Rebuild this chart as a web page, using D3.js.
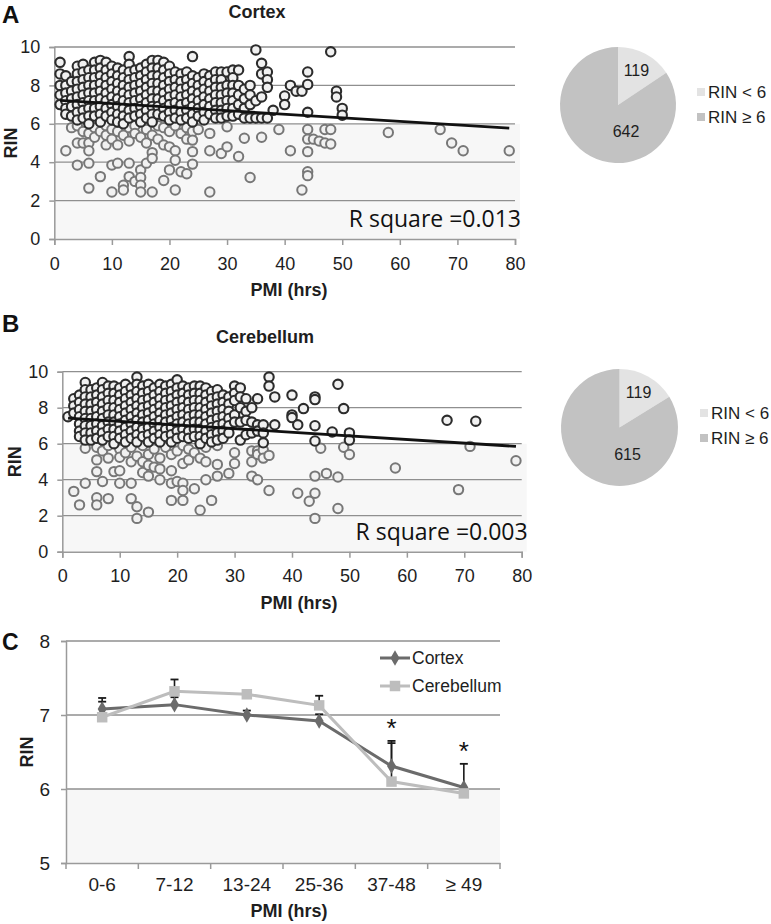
<!DOCTYPE html>
<html><head><meta charset="utf-8">
<script src="https://cdn.jsdelivr.net/npm/d3@7/dist/d3.min.js"></script>
<style>body{margin:0;background:#fff}svg{display:block}</style>
</head><body>
<svg id="chart" width="771" height="924"></svg>
<script>
// ---------- DATA ----------
const scatterXTicks = [0,10,20,30,40,50,60,70,80];
const scatterYTicks = [0,2,4,6,8,10];

// Cortex: [PMI, [RIN values at that PMI]]
const cortexCols = [
 [1,[9.2,8.6,8.0,7.5,7.0]],
 [2,[8.5,8.0,7.6,7.2,6.8,6.5,4.6]],
 [3,[8.2,7.7,7.3,6.9,6.4,5.8]],
 [4,[9.0,8.6,8.2,7.8,7.4,7.0,6.6,6.2,5.9,5.0,3.85]],
 [5,[9.1,8.7,8.3,7.9,7.5,7.1,6.7,6.3,5.6,5.0]],
 [6,[8.8,8.4,8.0,7.6,7.2,6.8,6.4,6.0,5.5,5.0,4.6,3.95,2.65]],
 [7,[9.2,8.8,8.4,8.0,7.6,7.2,6.8,6.4,5.8,5.3]],
 [8,[9.3,8.9,8.5,8.1,7.7,7.3,6.9,6.5,6.1,5.6,3.25]],
 [9,[9.2,8.8,8.4,8.0,7.6,7.2,6.8,6.4,5.9,5.4,4.9]],
 [10,[9.0,8.6,8.2,7.8,7.4,7.0,6.6,6.2,5.7,5.2,3.85,2.45]],
 [11,[8.9,8.5,8.1,7.7,7.3,6.9,6.5,6.1,5.6,4.9,3.95]],
 [12,[8.8,8.4,8.0,7.6,7.2,6.8,6.4,6.0,5.4,2.8,2.55]],
 [13,[9.5,9.1,8.7,8.3,7.9,7.5,7.1,6.7,6.3,5.8,5.1,3.95,3.25]],
 [14,[8.8,8.4,8.0,7.6,7.2,6.8,6.4,5.9,5.5,3.0]],
 [15,[8.9,8.5,8.1,7.7,7.3,6.9,6.5,6.1,5.3,3.6,3.2,2.8,2.45]],
 [16,[9.1,8.7,8.3,7.9,7.5,7.1,6.7,6.3,5.7,5.0,3.95]],
 [17,[9.3,8.9,8.5,8.1,7.7,7.3,6.9,6.5,6.1,5.4,4.5,4.2,2.45]],
 [18,[9.3,8.9,8.5,8.1,7.7,7.3,6.9,6.5,5.9,5.2]],
 [19,[9.2,8.8,8.4,8.0,7.6,7.2,6.8,6.4,5.8,4.9,3.05]],
 [20,[9.0,8.6,8.2,7.8,7.4,7.0,6.6,6.2,5.6,4.8,3.6]],
 [21,[8.7,8.3,7.9,7.5,7.1,6.7,6.3,5.9,4.6,4.1,2.55]],
 [22,[8.6,8.2,7.8,7.4,7.0,6.6,6.2,5.5,3.5]],
 [23,[8.7,8.3,7.9,7.5,7.1,6.7,6.3,5.8,5.2,3.4]],
 [24,[9.5,8.5,8.1,7.7,7.3,6.9,6.5,6.1,5.6,5.15,4.55,3.9]],
 [25,[8.4,8.0,7.6,7.2,6.8,6.4,5.7]],
 [26,[8.6,8.2,7.8,7.4,7.0,6.6,6.2]],
 [27,[8.5,8.1,7.7,7.3,6.9,6.5,5.5,4.6,2.45]],
 [28,[8.7,8.3,7.9,7.5,7.1,6.7,6.3]],
 [29,[8.7,8.3,7.9,7.5,7.1,6.7,6.3,4.45]],
 [30,[8.7,8.0,7.6,7.2,6.8,6.4,5.85,4.8]],
 [31,[8.8,8.4,8.0,7.6,7.2,6.8,6.4]],
 [32,[8.8,8.0,7.5,7.0,6.5,4.3]],
 [33,[7.8,7.3,6.8,6.3,5.25]],
 [34,[8.0,7.5,7.0,6.3,3.2]],
 [35,[9.85,7.2,6.3]],
 [36,[9.15,8.6,7.4,6.3,5.3]],
 [37,[8.7,8.3,7.9,6.3]],
 [38,[6.7]],
 [39,[5.7]],
 [40,[7.45,7.0]],
 [41,[8.0,4.6]],
 [42,[7.7]],
 [43,[7.7,2.55]],
 [44,[8.7,8.05,6.6,5.7,5.2,4.55,3.5,3.3]],
 [45,[5.2]],
 [46,[5.1]],
 [47,[5.7,5.0]],
 [48,[9.75,5.7,4.95]],
 [49,[7.7,7.4]],
 [50,[6.8,6.45]],
 [58,[5.55]],
 [67,[5.7]],
 [69,[5.0]],
 [71,[4.6]],
 [79,[4.6]]
];

// Cerebellum: [PMI, [RIN values at that PMI]]
const cerebCols = [
 [1,[7.5]],
 [2,[8.5,8.1,7.7,3.35]],
 [3,[8.7,8.3,7.9,7.5,7.1,6.7,6.4,2.6]],
 [4,[9.4,9.0,8.6,8.2,7.8,7.4,7.0,6.6,6.2,5.75,3.8]],
 [5,[9.0,8.6,8.2,7.8,7.4,7.0,6.6,6.2]],
 [6,[9.1,8.7,8.3,7.9,7.5,7.1,6.7,6.3,5.8,5.1,4.45,3.0,2.6]],
 [7,[9.4,9.0,8.6,8.2,7.8,7.4,7.0,6.6,6.2,5.6,3.9]],
 [8,[9.2,8.8,8.4,8.0,7.6,7.2,6.8,6.4,5.9,5.2,2.95]],
 [9,[9.2,8.8,8.4,8.0,7.6,7.2,6.8,6.4,6.0,4.45]],
 [10,[9.1,8.7,8.3,7.9,7.5,7.1,6.7,6.3,5.7,5.25,4.5,3.8]],
 [11,[9.3,8.9,8.5,8.1,7.7,7.3,6.9,6.5,6.1,5.5]],
 [12,[9.1,8.7,8.3,7.9,7.5,7.1,6.7,6.3,5.8,5.0,3.8,2.95]],
 [13,[9.7,9.3,8.9,8.5,8.1,7.7,7.3,6.9,6.5,6.1,5.3,2.5,1.85]],
 [14,[9.2,8.8,8.4,8.0,7.6,7.2,6.8,6.4,5.9,5.0,4.4]],
 [15,[9.3,8.9,8.5,8.1,7.7,7.3,6.9,6.5,6.1,5.4,4.8,4.2,2.2]],
 [16,[9.1,8.7,8.3,7.9,7.5,7.1,6.7,6.3,5.7,4.7]],
 [17,[9.3,8.9,8.5,8.1,7.7,7.3,6.9,6.5,6.1,5.2,4.6,4.0]],
 [18,[9.2,8.8,8.4,8.0,7.6,7.2,6.8,6.4,5.8]],
 [19,[9.3,8.9,8.5,8.1,7.7,7.3,6.9,6.5,6.1,5.4,4.5,3.8,2.85]],
 [20,[9.55,9.1,8.7,8.3,7.9,7.5,7.1,6.7,6.3,5.6,3.9]],
 [21,[9.2,8.8,8.4,8.0,7.6,7.2,6.8,6.4,5.9,4.9,3.8,3.4,2.85]],
 [22,[9.1,8.7,8.3,7.9,7.5,7.1,6.7,6.3,5.7,5.1]],
 [23,[9.2,8.8,8.4,8.0,7.6,7.2,6.8,6.4,5.5,3.5]],
 [24,[9.2,8.8,8.4,8.0,7.6,7.2,6.8,6.4,6.0,5.2,2.3]],
 [25,[9.1,8.7,8.3,7.9,7.5,7.1,6.7,6.3,5.8,5.0,4.0]],
 [26,[8.9,8.5,8.1,7.7,7.3,6.9,6.5,6.1,2.85]],
 [27,[9.0,8.6,8.2,7.8,7.4,7.0,6.6,6.2,5.9,4.85,4.2]],
 [28,[8.7,8.3,7.9,7.5,7.1,6.7,6.3]],
 [29,[8.6,8.2,7.8,7.4,7.0,6.6,4.35]],
 [30,[9.2,8.8,8.4,7.6,7.2,5.5,4.9]],
 [31,[9.1,8.6,8.0,7.2,6.2]],
 [32,[8.5,7.8,7.3,6.5]],
 [33,[8.0,7.2,6.6,5.6,5.0,4.2]],
 [34,[8.5,7.05,6.7,5.6,5.4,4.0]],
 [35,[7.05,6.6,6.05,5.65,5.2]],
 [36,[9.7,9.2,5.35,3.4]],
 [37,[8.6,7.05]],
 [40,[8.7,7.6,7.45]],
 [41,[7.05,3.25]],
 [42,[7.95]],
 [43,[2.8]],
 [44,[8.6,8.45,7.0,6.15,4.2,3.25,1.85]],
 [45,[5.75]],
 [46,[4.35]],
 [47,[6.65]],
 [48,[9.3,4.15,2.4]],
 [49,[7.95,5.8]],
 [50,[6.6,6.2,5.4]],
 [58,[4.65]],
 [67,[7.3]],
 [69,[3.45]],
 [71,[5.85]],
 [72,[7.25]],
 [79,[5.05]]
];

const cortexTrend = [[1,7.22],[79,5.78]];
const cerebTrend  = [[1,7.42],[79,5.85]];
const cortexRsq = "R square =0.013";
const cerebRsq  = "R square =0.003";

const pieLegend = ["RIN < 6","RIN ≥ 6"];
const cortexPie = [119,642];
const cerebPie  = [119,615];

const groups = ["0-6","7-12","13-24","25-36","37-48","≥ 49"];
const lineYTicks = [5,6,7,8];
const cortexMean = [7.08,7.14,7.00,6.92,6.31,6.02];
const cortexErr  = [0.15,0.10,0.06,0.09,0.34,0.32];
const cerebMean  = [6.97,7.32,7.28,7.13,6.10,5.94];
const cerebErr   = [0.21,0.16,0.03,0.13,0.52,0.05];
const sigGroups  = ["37-48","≥ 49"];

// ---------- DRAW ----------
const svg = d3.select("#chart");
const FONT = "'Liberation Sans', Arial, sans-serif";
const GRID = "#8f8f8f", AXIS = "#9a9a9a", TXT = "#1e1e1e";
const PANEL_FILL = "#f7f7f7";

function flatten(cols){ const out=[]; cols.forEach(([p,vals])=>vals.forEach(v=>out.push([p,v]))); return out; }

function scatterPanel(o){
  const g = svg.append("g");
  const x = d3.scaleLinear().domain([0,80]).range([o.x0,o.x1]);
  const y = d3.scaleLinear().domain([0,10]).range([o.y0,o.y1]);
  g.append("rect").attr("x",x(0)).attr("y",y(6)).attr("width",x(80)-x(0)+5).attr("height",y(0)-y(6)).attr("fill",PANEL_FILL);
  g.selectAll(".grid").data(scatterYTicks.filter(t=>t>0)).join("line")
    .attr("x1",x(0)).attr("x2",x(80)).attr("y1",d=>y(d)).attr("y2",d=>y(d))
    .attr("stroke",GRID).attr("stroke-width",1.3);
  const yAxis = d3.axisLeft(y).tickValues(scatterYTicks).tickSize(5).tickPadding(9);
  const gy = g.append("g").attr("transform",`translate(${x(0)},0)`).call(yAxis);
  const xAxis = d3.axisBottom(x).tickValues(scatterXTicks).tickSize(6).tickPadding(12);
  const gx = g.append("g").attr("transform",`translate(0,${y(0)})`).call(xAxis);
  [gx,gy].forEach(a=>{
    a.select(".domain").attr("stroke",AXIS).attr("stroke-width",1.5);
    a.selectAll(".tick line").attr("stroke",AXIS).attr("stroke-width",1.5);
    a.selectAll(".tick text").attr("font-family",FONT).attr("font-size",18).attr("fill",TXT);
  });
  const pts = flatten(o.cols);
  const low = pts.filter(d=>d[1]<6), high = pts.filter(d=>d[1]>=6);
  g.append("g").selectAll("circle").data(low).join("circle")
    .attr("cx",d=>x(d[0])).attr("cy",d=>y(d[1])).attr("r",4.7)
    .attr("fill","#f1f1f1").attr("stroke","#777").attr("stroke-width",2);
  g.append("g").selectAll("circle").data(high).join("circle")
    .attr("cx",d=>x(d[0])).attr("cy",d=>y(d[1])).attr("r",4.7)
    .attr("fill","#f1f1f1").attr("stroke","#2c2c2c").attr("stroke-width",2.1);
  g.append("path").datum(o.trend).attr("d",d3.line().x(d=>x(d[0])).y(d=>y(d[1])))
    .attr("stroke","#111").attr("stroke-width",2.8).attr("fill","none");
  g.append("text").attr("x",x(80)+6).attr("y",y(0)-12).attr("text-anchor","end")
    .attr("font-family","'Open Sans', sans-serif").attr("font-size",23).attr("fill","#111").text(o.rsq);
  g.append("text").attr("x",o.titleX).attr("y",o.titleY).attr("text-anchor","middle")
    .attr("font-family",FONT).attr("font-weight","bold").attr("font-size",18).attr("fill",TXT).text(o.title);
  g.append("text").attr("x",2).attr("y",o.letterY).attr("font-family",FONT).attr("font-weight","bold")
    .attr("font-size",24).attr("fill","#111").text(o.letter);
  g.append("text").attr("x",o.xLabX).attr("y",y(0)+57).attr("text-anchor","middle")
    .attr("font-family",FONT).attr("font-weight","bold").attr("font-size",18).attr("fill",TXT).text("PMI (hrs)");
  g.append("text").attr("transform",`translate(${o.yLabX},${(y(0)+y(10))/2}) rotate(-90)`)
    .attr("text-anchor","middle").attr("dominant-baseline","central")
    .attr("font-family",FONT).attr("font-weight","bold").attr("font-size",18).attr("fill",TXT).text("RIN");
}

scatterPanel({x0:54.3,x1:515,y0:239,y1:47,cols:cortexCols,trend:cortexTrend,rsq:cortexRsq,
  title:"Cortex",titleX:257,titleY:18,letter:"A",letterY:23,xLabX:289,yLabX:11});
scatterPanel({x0:62.3,x1:521.7,y0:551.7,y1:371.7,cols:cerebCols,trend:cerebTrend,rsq:cerebRsq,
  title:"Cerebellum",titleX:265,titleY:343,letter:"B",letterY:332,xLabX:299,yLabX:15});

function piePanel(o){
  const g = svg.append("g").attr("transform",`translate(${o.cx},${o.cy})`);
  const colors = ["#e3e3e3","#c2c2c2"];
  const arcs = d3.pie().sort(null)(o.data);
  const arc = d3.arc().innerRadius(0).outerRadius(o.r);
  g.selectAll("path").data(arcs).join("path").attr("d",arc).attr("fill",(d,i)=>colors[i]);
  const lab = d3.arc().innerRadius(o.r*0.6).outerRadius(o.r*0.6);
  g.selectAll("text").data(arcs).join("text")
    .attr("x",(d,i)=> i===0 ? lab.centroid(d)[0]+2 : 8)
    .attr("y",(d,i)=> i===0 ? lab.centroid(d)[1]-4 : o.r*0.46)
    .attr("text-anchor","middle").attr("dominant-baseline","central")
    .attr("font-family",FONT).attr("font-size",16).attr("fill",TXT).text(d=>d.data);
  const lg = svg.append("g").attr("transform",`translate(${o.lx},${o.ly})`);
  pieLegend.forEach((t,i)=>{
    lg.append("rect").attr("x",0).attr("y",i*25-4).attr("width",8).attr("height",8).attr("fill",colors[i]);
    lg.append("text").attr("x",11).attr("y",i*25).attr("dominant-baseline","central")
      .attr("font-family",FONT).attr("font-size",17).attr("fill",TXT).text(t);
  });
}
piePanel({cx:618,cy:105,r:58,data:cortexPie,lx:697,ly:92});
piePanel({cx:619.5,cy:427.5,r:58.5,data:cerebPie,lx:700,ly:413});

// ---------- Panel C ----------
(function(){
  const g = svg.append("g");
  const x = d3.scaleBand().domain(groups).range([66,500]);
  const y = d3.scaleLinear().domain([5,8]).range([863,641]);
  g.append("rect").attr("x",66).attr("y",y(6)).attr("width",434).attr("height",y(5)-y(6)).attr("fill",PANEL_FILL);
  g.selectAll(".grid").data(lineYTicks.filter(t=>t>5)).join("line")
    .attr("x1",66).attr("x2",500).attr("y1",d=>y(d)).attr("y2",d=>y(d))
    .attr("stroke",GRID).attr("stroke-width",1.3);
  const gy = g.append("g").attr("transform","translate(66,0)")
    .call(d3.axisLeft(y).tickValues(lineYTicks).tickFormat(d3.format("d")).tickSize(5).tickPadding(11));
  const gx = g.append("g").attr("transform",`translate(0,${y(5)})`)
    .call(d3.axisBottom(x).tickSize(0).tickPadding(15));
  const bounds = groups.map(d=>x(d)).concat([x(groups[groups.length-1])+x.bandwidth()]);
  g.selectAll(".bt").data(bounds).join("line").attr("x1",d=>d).attr("x2",d=>d)
    .attr("y1",y(5)).attr("y2",y(5)+6).attr("stroke",AXIS).attr("stroke-width",1.5);
  [gx,gy].forEach(a=>{
    a.select(".domain").attr("stroke",AXIS).attr("stroke-width",1.5);
    a.selectAll(".tick line").attr("stroke",AXIS).attr("stroke-width",1.5);
    a.selectAll(".tick text").attr("font-family",FONT).attr("font-size",19).attr("fill",TXT);
  });
  const cx = d => x(d)+x.bandwidth()/2;
  function errBars(mean,err){
    groups.forEach((gname,i)=>{
      const top = y(mean[i]+err[i]);
      g.append("line").attr("x1",cx(gname)).attr("x2",cx(gname)).attr("y1",y(mean[i])).attr("y2",top)
        .attr("stroke","#1a1a1a").attr("stroke-width",1.6);
      g.append("line").attr("x1",cx(gname)-4).attr("x2",cx(gname)+4).attr("y1",top).attr("y2",top)
        .attr("stroke","#1a1a1a").attr("stroke-width",1.8);
    });
  }
  errBars(cerebMean,cerebErr);
  errBars(cortexMean,cortexErr);
  const line = d3.line().x((d,i)=>cx(groups[i])).y(d=>y(d));
  const CORT = "#6b6b6b", CERE = "#bdbdbd";
  g.append("path").datum(cortexMean).attr("d",line).attr("fill","none").attr("stroke",CORT).attr("stroke-width",3);
  g.append("path").datum(cerebMean).attr("d",line).attr("fill","none").attr("stroke",CERE).attr("stroke-width",3);
  const diamond = d3.symbol().type(d3.symbolDiamond).size(70);
  const square = d3.symbol().type(d3.symbolSquare).size(110);
  g.selectAll(".cm").data(cortexMean).join("path").attr("d",diamond)
    .attr("transform",(d,i)=>`translate(${cx(groups[i])},${y(d)})`).attr("fill",CORT);
  g.selectAll(".bm").data(cerebMean).join("path").attr("d",square)
    .attr("transform",(d,i)=>`translate(${cx(groups[i])},${y(d)})`).attr("fill",CERE);
  sigGroups.forEach(gname=>{
    const i = groups.indexOf(gname);
    const top = Math.max(cortexMean[i]+cortexErr[i], cerebMean[i]+cerebErr[i]);
    g.append("text").attr("x",cx(gname)).attr("y",y(top)-4).attr("text-anchor","middle")
      .attr("font-family",FONT).attr("font-size",26).attr("fill","#111").text("*");
  });
  [["Cortex",CORT,diamond],["Cerebellum",CERE,square]].forEach(([t,c,s],i)=>{
    const ly = 658 + i*28;
    g.append("line").attr("x1",380).attr("x2",410).attr("y1",ly).attr("y2",ly).attr("stroke",c).attr("stroke-width",3);
    g.append("path").attr("d",s).attr("transform",`translate(395,${ly})`).attr("fill",c);
    g.append("text").attr("x",412).attr("y",ly).attr("dominant-baseline","central")
      .attr("font-family",FONT).attr("font-size",17.5).attr("fill",TXT).text(t);
  });
  g.append("text").attr("x",2).attr("y",650).attr("font-family",FONT).attr("font-weight","bold")
    .attr("font-size",23).attr("fill","#111").text("C");
  g.append("text").attr("x",289).attr("y",917).attr("text-anchor","middle")
    .attr("font-family",FONT).attr("font-weight","bold").attr("font-size",18).attr("fill",TXT).text("PMI (hrs)");
  g.append("text").attr("transform","translate(27,752) rotate(-90)")
    .attr("text-anchor","middle").attr("dominant-baseline","central")
    .attr("font-family",FONT).attr("font-weight","bold").attr("font-size",18).attr("fill",TXT).text("RIN");
})();
</script>
</body></html>
